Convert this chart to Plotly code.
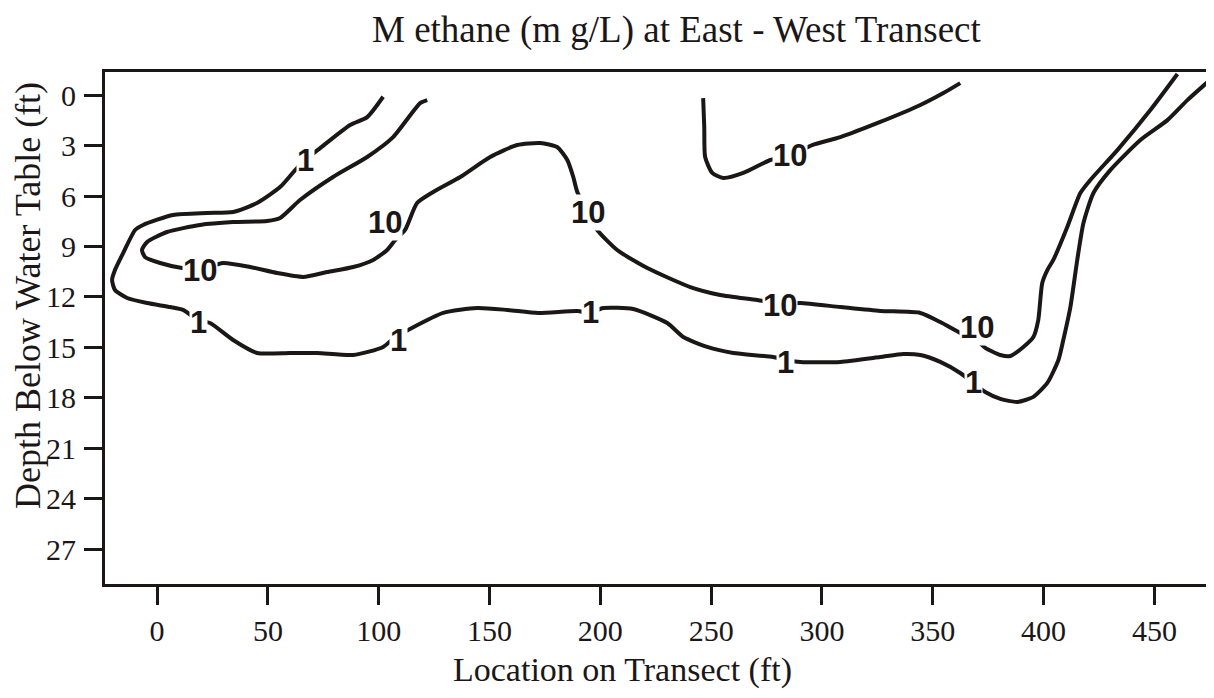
import plotly.graph_objects as go

# ---- contour "1" (outer line) ----
c1_x = [102.0, 94.8, 87.1, 73.6, 66.8, 62.3, 55.5, 45.1, 34.3, 22.6, 7.2, -6.3, -9.9, -15.3, -19.0, -20.3,
        -19.0, -13.5, -4.5, 5.9, 11.7, 18.5, 23.9, 34.3, 45.1, 60.0, 72.2, 88.5, 102.0, 107.4, 113.3, 129.1,
        144.4, 158.0, 172.0, 189.6, 195.4, 201.3, 214.8, 230.2, 237.4, 248.2, 260.0, 278.0, 283.4, 290.2,
        308.3, 326.3, 336.7, 344.4, 353.4, 362.4, 368.3, 373.7, 380.5, 388.2, 395.4, 401.7, 406.7, 408.9,
        412.1, 415.2, 418.0, 422.5, 430.1, 443.7, 455.9, 464.9, 476.6]
c1_y = [0.10, 1.31, 1.78, 3.15, 3.86, 4.46, 5.47, 6.42, 6.95, 7.01, 7.13, 7.72, 8.02, 9.39, 10.40, 10.99,
        11.59, 12.06, 12.36, 12.60, 12.77, 13.37, 13.55, 14.56, 15.33, 15.33, 15.33, 15.45, 14.97, 14.38, 13.96, 12.95,
        12.66, 12.77, 12.95, 12.83, 12.95, 12.66, 12.72, 13.55, 14.38, 14.97, 15.33, 15.57, 15.75, 15.86,
        15.86, 15.57, 15.39, 15.45, 15.86, 16.52, 17.11, 17.65, 18.06, 18.24, 17.94, 17.11, 15.75, 14.56,
        12.60, 9.80, 7.61, 5.82, 4.46, 2.67, 1.49, 0.30, -1.07]

# ---- contour "10" (long line) ----
c10_x = [121.9, 118.7, 106.5, 94.8, 79.4, 64.5, 55.5, 49.6, 34.3, 19.4, 4.5, -4.5, -6.8, -5.4, 1.4, 11.3,
         19.4, 29.8, 42.0, 54.2, 65.9, 76.7, 88.5, 97.5, 103.8, 107.4, 111.9, 117.3, 124.6, 136.8, 150.3,
         162.5, 172.9, 180.5, 185.1, 187.8, 189.6, 194.5, 198.6, 207.6, 221.2, 240.6, 254.1, 270.8, 281.2,
         290.2, 308.3, 326.3, 344.4, 353.4, 362.4, 370.1, 373.7, 380.5, 385.0, 390.9, 395.4, 397.6, 399.4,
         401.7, 404.4, 410.7, 416.6, 421.1, 433.3, 448.2, 460.4]
c10_y = [0.30, 0.48, 2.50, 3.68, 4.87, 6.24, 7.31, 7.49, 7.55, 7.72, 8.14, 8.73, 9.21, 9.63, 9.98, 10.28,
         10.35, 9.98, 10.22, 10.58, 10.81, 10.52, 10.22, 9.80, 9.21, 8.62, 8.02, 6.42, 5.76, 4.87, 3.68,
         2.97, 2.85, 3.09, 3.86, 4.87, 5.76, 7.01, 8.02, 9.21, 10.28, 11.41, 11.88, 12.18, 12.40,
         12.36, 12.60, 12.83, 12.95, 13.49, 14.14, 14.60, 15.03, 15.45, 15.51, 14.97, 14.38, 13.37, 11.17,
         10.40, 9.80, 7.84, 5.82, 5.05, 3.27, 0.89, -1.25]

# ---- contour "10" (upper U-shaped line) ----
c10b_x = [246.4, 246.9, 247.3, 250.5, 255.5, 264.5, 276.7, 285.7, 295.6, 308.3, 326.3, 344.4, 354.8, 362.4]
c10b_y = [0.18, 1.90, 3.68, 4.63, 4.93, 4.63, 3.86, 3.57, 2.97, 2.50, 1.60, 0.59, -0.12, -0.71]

# ---- contour labels ----
label_text = ["1", "1", "1", "1", "1", "1", "10", "10", "10", "10", "10", "10"]
label_x = [66.8, 18.5, 108.8, 195.4, 283.4, 368.3, 19.4, 102.9, 194.5, 281.2, 370.1, 285.7]
label_y = [3.86, 13.5, 14.6, 12.95, 15.9, 17.1, 10.4, 7.55, 7.0, 12.5, 13.84, 3.57]

x_ticks = [0, 50, 100, 150, 200, 250, 300, 350, 400, 450]
y_ticks = [0, 3, 6, 9, 12, 15, 18, 21, 24, 27]

title_text = "M ethane (m g/L) at East - West Transect"
x_title = "Location on Transect (ft)"
y_title = "Depth Below Water Table (ft)"

line_color = "#1b1717"
serif = "Liberation Serif"

fig = go.Figure()
for xs, ys in [(c1_x, c1_y), (c10_x, c10_y), (c10b_x, c10b_y)]:
    fig.add_trace(go.Scatter(x=xs, y=ys, mode="lines",
                             line=dict(color=line_color, width=4, shape="spline", smoothing=0.6),
                             hoverinfo="skip", showlegend=False, cliponaxis=True))

for t, lx, ly in zip(label_text, label_x, label_y):
    fig.add_annotation(x=lx, y=ly, text=t, showarrow=False,
                       font=dict(family="Liberation Sans", size=31, color=line_color, weight="bold"),
                       bgcolor="white", borderpad=0)

# axis titles and chart title placed as annotations
fig.add_annotation(xref="paper", yref="paper", x=(622 - 105) / 1107, y=0, yshift=-86,
                   xanchor="center", yanchor="middle", showarrow=False, text=x_title,
                   font=dict(family=serif, size=34, color=line_color))
fig.add_annotation(xref="paper", yref="paper", x=0, xshift=-77, y=(584 - 296) / 512,
                   xanchor="center", yanchor="middle", showarrow=False, text=y_title, textangle=-90,
                   font=dict(family=serif, size=36, color=line_color))
fig.add_annotation(xref="paper", yref="paper", x=(676 - 105) / 1107, y=1, yshift=42,
                   xanchor="center", yanchor="middle", showarrow=False, text=title_text,
                   font=dict(family=serif, size=37, color=line_color))

axis_common = dict(showline=True, linecolor=line_color, linewidth=3, mirror=True,
                   ticks="outside", ticklen=18, tickwidth=3, tickcolor=line_color,
                   showgrid=False, zeroline=False, automargin=False,
                   tickfont=dict(family=serif, size=30, color=line_color))

# the page body adds an 8 px offset, so the figure is 8 px smaller than the window
fig.update_layout(
    width=1206, height=690,
    margin=dict(l=97, r=2, t=64, b=114),
    paper_bgcolor="white", plot_bgcolor="white",
    xaxis=dict(range=[-23.5, 476], tickvals=x_ticks, ticktext=[str(v) for v in x_ticks],
               ticklabelstandoff=0, **axis_common),
    yaxis=dict(range=[29.06, -1.37], tickvals=y_ticks, ticktext=[str(v) for v in y_ticks],
               ticklabelstandoff=2, **axis_common),
)

fig.write_html("out.html")
